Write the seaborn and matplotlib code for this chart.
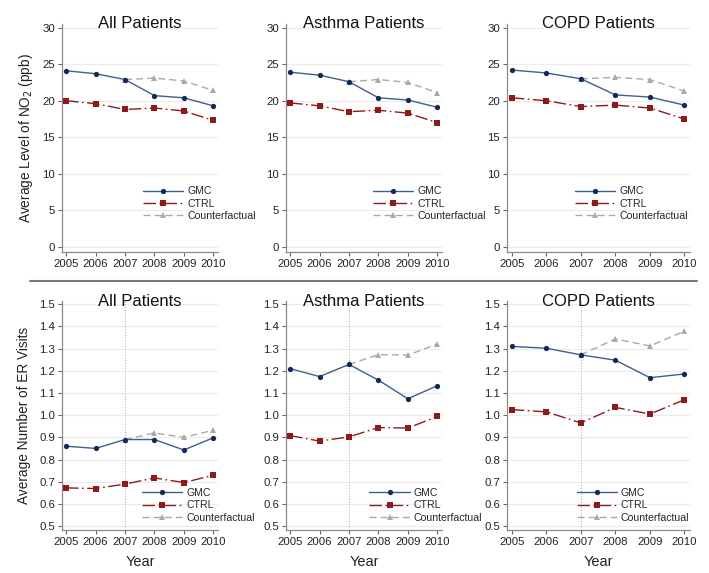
import numpy as np
import pandas as pd
import matplotlib
matplotlib.use("Agg")
import matplotlib.pyplot as plt
import seaborn as sns
from matplotlib.lines import Line2D

years = [2005, 2006, 2007, 2008, 2009, 2010]
cf_years = [2007, 2008, 2009, 2010]
panel_titles = ["All Patients", "Asthma Patients", "COPD Patients"]

# NO2 (ppb)
no2_gmc_all = [24.1, 23.7, 22.9, 20.7, 20.4, 19.3]
no2_ctrl_all = [20.0, 19.6, 18.8, 19.0, 18.6, 17.3]
no2_cf_all = [22.9, 23.1, 22.7, 21.4]
no2_gmc_asthma = [23.9, 23.5, 22.6, 20.4, 20.1, 19.1]
no2_ctrl_asthma = [19.7, 19.3, 18.5, 18.7, 18.3, 17.0]
no2_cf_asthma = [22.6, 22.9, 22.5, 21.1]
no2_gmc_copd = [24.2, 23.8, 23.0, 20.8, 20.5, 19.4]
no2_ctrl_copd = [20.4, 20.0, 19.2, 19.4, 19.0, 17.5]
no2_cf_copd = [23.0, 23.2, 22.9, 21.3]

# ER visits
er_gmc_all = [0.86, 0.85, 0.89, 0.89, 0.843, 0.898]
er_ctrl_all = [0.672, 0.669, 0.689, 0.717, 0.696, 0.729]
er_cf_all = [0.89, 0.92, 0.90, 0.932]
er_gmc_asthma = [1.21, 1.174, 1.229, 1.158, 1.074, 1.133]
er_ctrl_asthma = [0.908, 0.883, 0.902, 0.944, 0.942, 0.994]
er_cf_asthma = [1.229, 1.273, 1.271, 1.321]
er_gmc_copd = [1.31, 1.302, 1.272, 1.248, 1.169, 1.186]
er_ctrl_copd = [1.025, 1.015, 0.965, 1.035, 1.005, 1.07]
er_cf_copd = [1.272, 1.344, 1.312, 1.379]

sns.set_style("white")
plt.rcParams["font.family"] = ["Liberation Sans", "DejaVu Sans"]

W, H = 709, 573
fig = plt.figure(figsize=(W / 100, H / 100), dpi=100)

def px_axes(left, right, top, bottom):
    return fig.add_axes([left / W, 1 - bottom / H, (right - left) / W, (bottom - top) / H])

c_gmc_line = "#3f5f8c"
c_gmc_mark = "#14285a"
c_ctrl = "#8e1b1b"
c_cf = "#a9a9a9"
ctrl_ls = (0, (9, 2.5, 1.2, 2.5))
cf_ls = (0, (5, 3))

x_extents = [(62, 218), (286, 442), (507, 690)]
legend_x = [0.52, 0.56, 0.37]
legend_x_bot = [0.515, 0.535, 0.38]

rows = [
    dict(top=24, bottom=252, ylim=(-0.7, 30.5), ticks=np.arange(0, 31, 5), fmt="%d",
         data=[(no2_gmc_all, no2_ctrl_all, no2_cf_all),
               (no2_gmc_asthma, no2_ctrl_asthma, no2_cf_asthma),
               (no2_gmc_copd, no2_ctrl_copd, no2_cf_copd)],
         ylabel="Average Level of NO$_2$ (ppb)", vline=False, xlabel=None, legy=0.288, legx=legend_x,
         ylpad=5),
    dict(top=301, bottom=530, ylim=(0.482, 1.515), ticks=np.round(np.arange(0.5, 1.51, 0.1), 1), fmt="%.1f",
         data=[(er_gmc_all, er_ctrl_all, er_cf_all),
               (er_gmc_asthma, er_ctrl_asthma, er_cf_asthma),
               (er_gmc_copd, er_ctrl_copd, er_cf_copd)],
         ylabel="Average Number of ER Visits", vline=True, xlabel="Year", legy=0.183, legx=legend_x_bot,
         ylpad=6),
]

for r in rows:
    for i, (l, rgt) in enumerate(x_extents):
        ax = px_axes(l, rgt, r["top"], r["bottom"])
        gmc, ctrl, cf = r["data"][i]
        df_g = pd.DataFrame({"Year": years, "v": gmc})
        df_c = pd.DataFrame({"Year": years, "v": ctrl})
        df_f = pd.DataFrame({"Year": cf_years, "v": cf})
        for t in r["ticks"]:
            ax.axhline(t, color="#ececec", lw=0.8, zorder=0)
        if r["vline"]:
            ax.axvline(2007, color="#b0b0b0", lw=0.8, ls=(0, (1, 1.5)), zorder=1)
        sns.lineplot(data=df_f, x="Year", y="v", ax=ax, color=c_cf, lw=1.0,
                     linestyle=cf_ls, marker="^", markersize=4, markeredgewidth=0,
                     markerfacecolor=c_cf, zorder=2)
        sns.lineplot(data=df_c, x="Year", y="v", ax=ax, color=c_ctrl, lw=1.0,
                     linestyle=ctrl_ls, marker="s", markersize=3.8,
                     markeredgewidth=0, markerfacecolor=c_ctrl, zorder=3)
        sns.lineplot(data=df_g, x="Year", y="v", ax=ax, color=c_gmc_line, lw=1.0,
                     marker="o", markersize=3.8, markeredgewidth=0,
                     markerfacecolor=c_gmc_mark, zorder=4)
        ax.set_xlim(2004.86, 2010.16)
        ax.set_ylim(*r["ylim"])
        ax.set_xticks(years)
        ax.set_yticks(r["ticks"])
        ax.set_yticklabels([r["fmt"] % t for t in r["ticks"]])
        ax.tick_params(axis="both", which="major", direction="out", length=3, width=0.8,
                       color="#666666", labelsize=8.2, labelcolor="#222222", pad=2, bottom=True, left=True)
        for s in ["top", "right"]:
            ax.spines[s].set_visible(False)
        for s in ["left", "bottom"]:
            ax.spines[s].set_color("#8a8a8a")
            ax.spines[s].set_linewidth(0.9)
        ax.set_xlabel(r["xlabel"] if r["xlabel"] else "", fontsize=10.5, labelpad=6, color="#222222")
        if i == 0:
            ax.set_ylabel(r["ylabel"], fontsize=9.8, labelpad=r["ylpad"], color="#222222")
        else:
            ax.set_ylabel("")
        ax.text(0.5, 1.0, panel_titles[i], transform=ax.transAxes, ha="center", va="center",
                fontsize=12, color="#111111")
        handles = [
            Line2D([], [], color=c_gmc_line, lw=1.0, marker="o", markersize=3.8,
                   markerfacecolor=c_gmc_mark, markeredgewidth=0),
            Line2D([], [], color=c_ctrl, lw=1.0, linestyle=ctrl_ls, marker="s",
                   markersize=3.8, markerfacecolor=c_ctrl, markeredgewidth=0),
            Line2D([], [], color=c_cf, lw=1.0, linestyle=cf_ls, marker="^",
                   markersize=4, markerfacecolor=c_cf, markeredgewidth=0),
        ]
        ax.legend(handles, ["GMC", "CTRL", "Counterfactual"], loc="upper left",
                  bbox_to_anchor=(r["legx"][i], r["legy"]), frameon=False, borderpad=0,
                  borderaxespad=0, handlelength=3.8, handletextpad=0.4, labelspacing=0.22,
                  fontsize=7.6)

fig.add_artist(Line2D([30 / W, 697 / W], [1 - 281 / H, 1 - 281 / H], color="#7a7a7a", lw=1.5))

fig.savefig("out.png", dpi=100, facecolor="white")
